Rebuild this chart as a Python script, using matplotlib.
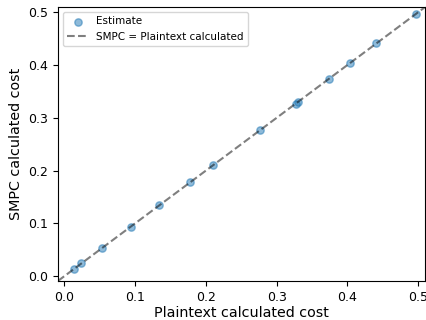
import matplotlib
matplotlib.use("Agg")
import matplotlib.pyplot as plt

# plaintext vs SMPC cost estimates
plain_cost = [0.013, 0.024, 0.053, 0.094, 0.134, 0.178, 0.210, 0.276,
              0.327, 0.330, 0.374, 0.404, 0.441, 0.497]
smpc_cost = [0.013, 0.024, 0.053, 0.094, 0.134, 0.178, 0.210, 0.276,
             0.327, 0.330, 0.374, 0.404, 0.441, 0.497]

fig, ax = plt.subplots(figsize=(4.26, 3.2), dpi=100)
ax.scatter(plain_cost, smpc_cost, s=28, alpha=0.5, label="Estimate")

lims = [-0.0092, 0.51]
ax.plot(lims, lims, 'k--', alpha=0.5, label="SMPC = Plaintext calculated")
ax.set_xlim(lims)
ax.set_ylim(lims)

ax.set_xlabel("Plaintext calculated cost", fontsize=10.3, labelpad=2)
ax.set_ylabel("SMPC calculated cost", fontsize=10.3)
ax.tick_params(labelsize=9)
ax.legend(loc="upper left", fontsize=7.5)

plt.subplots_adjust(left=0.136, right=0.998, bottom=0.122, top=0.978)
plt.savefig("out.png")
